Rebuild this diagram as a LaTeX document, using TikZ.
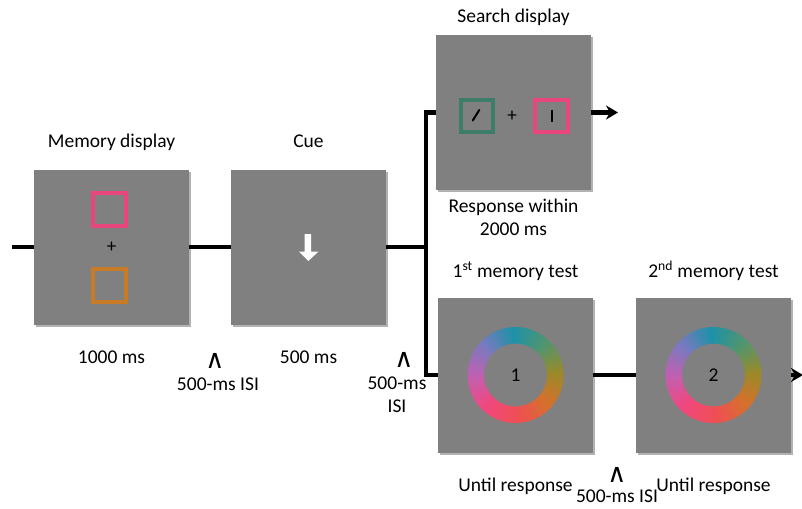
\documentclass[tikz,border=0pt]{standalone}
\usepackage{fontspec}
\setmainfont{Carlito}
\newfontfamily\symfont{DejaVu Sans}
\usetikzlibrary{positioning, arrows.meta, shadows}

\definecolor{screengray}{HTML}{808080}
\definecolor{pinkframe}{HTML}{E9457F}
\definecolor{orangeframe}{HTML}{C77B26}
\definecolor{greenframe}{HTML}{3E7D6A}
% colours of the wheel, every 45 degrees from east, counter-clockwise
\definecolor{wheel0}{HTML}{9A8A2A}
\definecolor{wheel1}{HTML}{4F9670}
\definecolor{wheel2}{HTML}{1E91A8}
\definecolor{wheel3}{HTML}{7A7AC0}
\definecolor{wheel4}{HTML}{C25FB0}
\definecolor{wheel5}{HTML}{F0487E}
\definecolor{wheel6}{HTML}{F04E55}
\definecolor{wheel7}{HTML}{D6702C}
\colorlet{wheel8}{wheel0}

\newcommand{\colorwheel}[1]{%
  \begin{scope}[shift={(#1)}, y=1pt]
    \foreach \k in {0,...,71}{
      \pgfmathtruncatemacro\seg{int(\k/9)}
      \pgfmathtruncatemacro\nxt{\seg+1}
      \pgfmathtruncatemacro\pct{100-round(100*mod(\k,9)/9)}
      \pgfmathsetmacro\a{\k*5}
      \pgfmathsetmacro\b{\k*5+5.6}
      \fill[wheel\seg!\pct!wheel\nxt] (\a:48pt) arc[start angle=\a, end angle=\b, radius=48pt]
        -- (\b:31.5pt) arc[start angle=\b, end angle=\a, radius=31.5pt] -- cycle;
    }
  \end{scope}}

\begin{document}
\begin{tikzpicture}[x=1pt, y=-1pt]
	\tikzset{screen/.style={rectangle, fill=screengray, minimum width=155pt,
		minimum height=155pt, inner sep=0pt,
		drop shadow={shadow xshift=2pt, shadow yshift=-2pt, opacity=.3, fill=black}}}
	\tikzset{label/.style={font=\fontsize{19.5}{23}\selectfont, inner sep=0pt,
		text height=13.5pt, text depth=4.5pt}}
	\tikzset{note/.style={font=\fontsize{19.5}{23}\selectfont, inner sep=0pt, align=center}}
	\tikzset{gap/.style={font=\symfont\fontsize{26}{26}\selectfont, inner sep=0pt}}
	\tikzset{flow/.style={line width=4pt, black}}
	\tikzset{arrow/.style={flow, -{Stealth[length=12pt, width=14pt]}}}
	\tikzset{frame/.style={line width=4pt}}
	\useasboundingbox (0,0) rectangle (802,508);

	\node (mem) [screen, font=\fontsize{19}{19}\selectfont] at (111.5,247) {+};
	\node (cue) [screen] at (308.5,247) {};
	\node (search) [screen] at (513.5,112.5) {};
	\node (test1) [screen, font=\fontsize{19.5}{23}\selectfont] at (515.5,375) {1};
	\node (test2) [screen, font=\fontsize{19.5}{23}\selectfont] at (713.5,375) {2};

	% what is shown on the screens
	\draw [frame, pinkframe] (93,193) rectangle (126,226);
	\draw [frame, orangeframe] (93,269) rectangle (126,302);
	\fill [white] (304.5,234) -- (311,234) -- (311,251.5) -- (318.5,251.5)
		-- (308.3,261) -- (299,251.5) -- (304.5,251.5) -- cycle;
	\draw [frame, greenframe] (461,100) rectangle (493,132);
	\draw [frame, pinkframe] (535,100) rectangle (568,132);
	\draw [line width=2pt, line cap=round] (472.7,120.5) -- (479.3,110);
	\draw [line width=2pt] (551.7,110) -- (551.7,122);
	\node (plus) [font=\fontsize{19}{19}\selectfont, inner sep=0pt] at (512,116) {+};
	\colorwheel{test1.center}
	\colorwheel{test2.center}

	% titles and durations
	\node (memtitle) [label, above=17pt of mem] {Memory display};
	\node (cuetitle) [label, above=17pt of cue] {Cue};
	\node (searchtitle) [label, above=7.5pt of search] {Search display};
	\node (test1title) [label, above=15pt of test1] {1\textsuperscript{st} memory test};
	\node (test2title) [label, above=15pt of test2] {2\textsuperscript{nd} memory test};
	\node (memtime) [label, below=25pt of mem] {1000 ms};
	\node (cuetime) [label, below=25pt of cue] {500 ms};
	\node (searchtime) [note, below=9pt of search] {Response within\\2000 ms};
	\node (test1time) [label, below=25pt of test1] {Until response};
	\node (test2time) [label, below=25pt of test2] {Until response};

	% inter-stimulus intervals
	\node (isi1) [gap] at (215,361) {∧};
	\node (isi1text) [note] at (218,384) {500-ms ISI};
	\node (isi2) [gap] at (404,360) {∧};
	\node (isi2text) [note] at (397,395) {500-ms\\ISI};
	\node (isi3) [gap] at (617,475) {∧};
	\node (isi3text) [note] at (617,496) {500-ms ISI};

	% time line
	\coordinate (start) at (12,247);
	\coordinate (split) at (426,247);
	\coordinate (searchend) at (618,112.5);
	\coordinate (testend) at (803,375);
	\draw [flow] (start) -- (mem);
	\draw [flow] (mem) -- (cue);
	\draw [flow] (cue) -- (split);
	\draw [flow] (split) |- (search.west);
	\draw [flow] (split) |- (test1.west);
	\draw [arrow] (search) -- (searchend);
	\draw [flow] (test1) -- (test2);
	\draw [arrow] (test2) -- (testend);
\end{tikzpicture}
\end{document}
